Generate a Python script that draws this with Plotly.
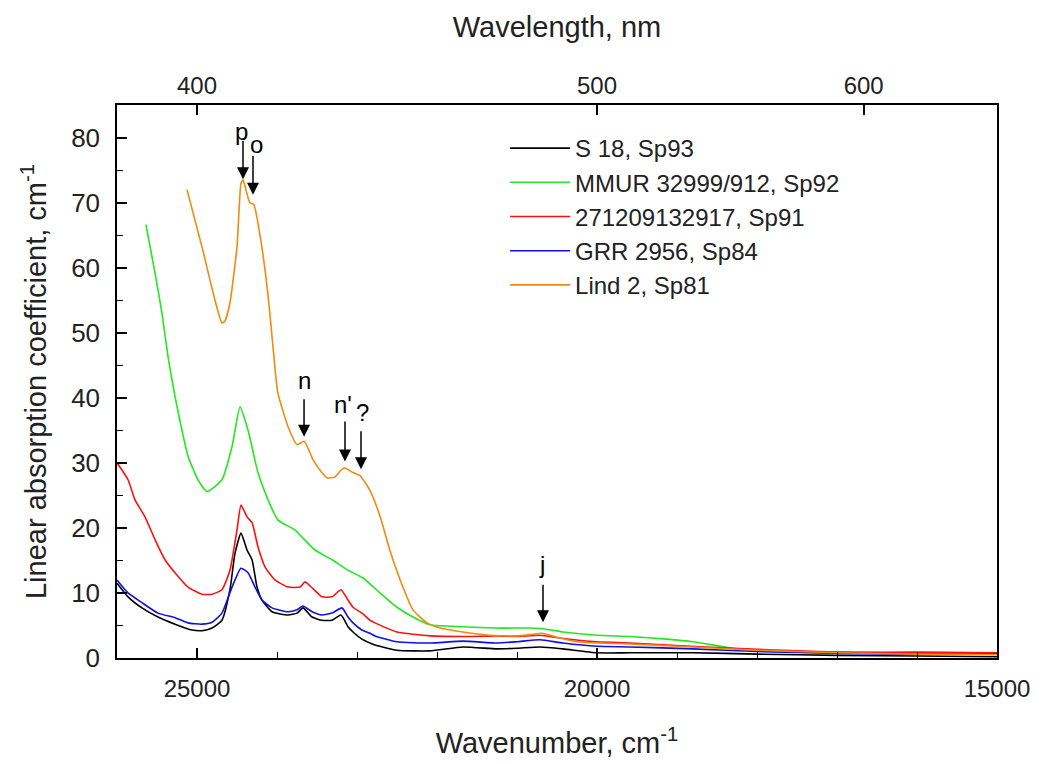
import plotly.graph_objects as go

# ---- data (wavenumber cm^-1, absorption coefficient cm^-1) ----
s18_wn = [26000, 25862, 25688, 25488, 25275, 25062, 24938, 24812, 24688, 24588, 24525, 24450,
          24375, 24312, 24250, 24188, 24062, 23862, 23750, 23675, 23562, 23438, 23312, 23200,
          23112, 23050, 22938, 22838, 22775, 22500, 22088, 21675, 21250, 21000, 20712, 20425,
          20000, 19588, 18800, 18000, 17000, 16000, 15000]
s18_val = [11.5, 9.4, 7.7, 6.3, 5.2, 4.3, 4.2, 4.6, 5.8, 10.5, 16.1, 19.2,
           16.6, 15.1, 10.9, 8.9, 7.1, 6.6, 6.9, 7.7, 6.3, 5.8, 5.8, 6.6,
           4.8, 4.0, 2.9, 2.3, 2.0, 1.2, 1.1, 1.7, 1.4, 1.5, 1.7, 1.4,
           0.8, 0.8, 0.8, 0.6, 0.4, 0.3, 0.2]

mmur_wn = [25638, 25525, 25438, 25362, 25275, 25188, 25112, 24988, 24875, 24688, 24562, 24462,
           24362, 24238, 24112, 23988, 23775, 23688, 23525, 23312, 23112, 22925, 22712, 22500,
           22300, 22088, 21675, 21250, 20838, 20675, 20425, 20000, 19588, 19125, 18800, 18300,
           17875, 17050, 16000, 15000]
mmur_val = [66.6, 59.2, 53.0, 46.3, 40.2, 35.0, 31.0, 27.4, 25.6, 27.4, 32.5, 38.6,
            35.0, 28.5, 24.3, 21.2, 19.7, 18.6, 16.6, 15.1, 13.5, 12.3, 10.0, 7.8,
            6.3, 5.1, 4.8, 4.6, 4.6, 4.5, 4.0, 3.5, 3.3, 2.9, 2.5, 1.5,
            1.1, 0.9, 0.8, 0.8]

r27_wn = [26000, 25862, 25775, 25650, 25525, 25400, 25275, 25112, 24938, 24812, 24688, 24588,
          24500, 24450, 24375, 24312, 24238, 24150, 24025, 23862, 23712, 23650, 23562, 23438,
          23312, 23200, 23112, 23050, 22938, 22838, 22775, 22500, 22088, 21675, 21250, 21000,
          20712, 20425, 20000, 19588, 19125, 18300, 17050, 16000, 15000]
r27_val = [30.0, 27.4, 24.3, 21.7, 18.2, 15.1, 13.1, 10.9, 9.8, 9.8, 10.5, 13.5,
           19.7, 23.5, 21.7, 20.8, 17.1, 14.0, 12.0, 10.9, 10.9, 11.7, 10.8, 9.4,
           9.4, 10.5, 8.9, 7.8, 6.9, 5.8, 5.4, 4.0, 3.4, 3.3, 3.4, 3.3,
           3.5, 3.0, 2.5, 2.3, 2.0, 1.5, 0.9, 0.9, 0.8]

grr_wn = [26000, 25862, 25688, 25488, 25275, 25112, 24938, 24812, 24688, 24562, 24450, 24362,
          24275, 24188, 24062, 23862, 23750, 23675, 23562, 23438, 23312, 23188, 23112, 23050,
          22938, 22838, 22775, 22500, 22088, 21675, 21250, 21000, 20712, 20425, 20000, 19588,
          18800, 18000, 17000, 16000, 15000]
grr_val = [12.0, 10.0, 8.5, 6.9, 6.2, 5.4, 5.2, 5.5, 6.9, 10.9, 13.8, 13.1,
           10.9, 8.9, 7.7, 7.1, 7.4, 8.0, 7.1, 6.6, 6.9, 7.7, 6.3, 5.4,
           4.3, 3.8, 3.4, 2.5, 2.3, 2.6, 2.3, 2.5, 2.8, 2.3, 1.8, 1.7,
           1.4, 1.0, 0.7, 0.6, 0.6]

lind_wn = [25125, 24938, 24775, 24688, 24650, 24588, 24500, 24450, 24425, 24400, 24340, 24290,
           24190, 24110, 24050, 23990, 23860, 23750, 23660, 23550, 23440, 23375, 23280, 23190,
           23150, 23050, 22960, 22840, 22710, 22590, 22460, 22300, 22125, 21960, 21675, 21340,
           21000, 20840, 20690, 20500, 20250, 20000, 19590, 19000, 18000, 17000, 16000, 15000]
lind_val = [72.0, 63.2, 55.0, 51.5, 51.8, 54.6, 63.2, 73.0, 73.5, 72.5, 70.0, 69.7,
            63.2, 55.5, 47.8, 40.8, 35.5, 32.8, 33.3, 30.5, 28.5, 27.7, 27.8, 29.0,
            29.2, 28.5, 28.0, 25.8, 21.7, 16.6, 12.0, 7.4, 5.4, 4.6, 4.0, 3.5,
            3.4, 3.6, 3.8, 3.2, 2.5, 2.3, 2.15, 1.8, 1.2, 0.8, 0.6, 0.5]

series_names = ["S 18, Sp93", "MMUR 32999/912, Sp92", "271209132917, Sp91",
                "GRR 2956, Sp84", "Lind 2, Sp81"]
series_colors = ["#000000", "#22e822", "#ff1010", "#1010e0", "#f08a10"]

wavelength_ticks_nm = [400, 500, 600]

# peak labels: (label, arrow x, arrow tip y, arrow tail y, label x, label y)
peak_labels = ["p", "o", "n", "n'", "?", "j"]
peak_x = [24425, 24300, 23662, 23150, 22950, 20675]
peak_tip = [73.6, 71.2, 34.0, 30.2, 29.0, 5.5]
peak_tail = [79.7, 77.4, 40.0, 36.6, 35.1, 11.5]
label_x = [24440, 24262, 23662, 23175, 22930, 20690]
label_y = [81.0, 79.0, 42.6, 38.9, 37.7, 14.3]

FONT = "Arial, Liberation Sans, sans-serif"

fig = go.Figure()
all_wn = [s18_wn, mmur_wn, r27_wn, grr_wn, lind_wn]
all_val = [s18_val, mmur_val, r27_val, grr_val, lind_val]
for name, col, wn, val in zip(series_names, series_colors, all_wn, all_val):
    fig.add_trace(go.Scatter(x=wn, y=val, mode="lines", name=name, legendgroup=name,
                             line=dict(color=col, width=1.6, shape="spline", smoothing=0.5)))

# invisible trace for the top wavelength axis
fig.add_trace(go.Scatter(x=[26000, 15000], y=[None, None], xaxis="x2", showlegend=False,
                         hoverinfo="skip", mode="lines"))

for lab, ax_, tip, tail, lx, ly in zip(peak_labels, peak_x, peak_tip, peak_tail, label_x, label_y):
    fig.add_annotation(x=ax_, y=tip, ax=ax_, ay=tail, xref="x", yref="y", axref="x", ayref="y",
                       text="", showarrow=True, arrowhead=2, arrowsize=1.6, arrowwidth=1.5,
                       arrowcolor="black")
    fig.add_annotation(x=lx, y=ly, xref="x", yref="y", text=lab, showarrow=False,
                       font=dict(family=FONT, size=24, color="black"))

fig.update_layout(
    width=1042, height=764,
    paper_bgcolor="white", plot_bgcolor="white",
    margin=dict(l=109, r=53, t=97, b=114),
    font=dict(family=FONT, size=24, color="#222"),
    showlegend=True,
    legend=dict(x=0.441, y=0.962, xanchor="left", yanchor="top", bgcolor="rgba(0,0,0,0)",
                font=dict(family=FONT, size=24, color="#222"), tracegroupgap=0,
                itemwidth=60),
    xaxis=dict(range=[26000, 15000], tickvals=[25000, 20000, 15000],
               ticktext=["25000", "20000", "15000"],
               ticks="inside", ticklen=10, tickwidth=1.5, tickcolor="black",
               minor=dict(dtick=1000, ticks="inside", ticklen=6, tickcolor="black", tickwidth=1.2),
               showline=True, linecolor="black", linewidth=1.5, showgrid=False, zeroline=False,
               tickfont=dict(size=24), ticklabelstandoff=8, automargin=False,
               title=dict(text="Wavenumber, cm<sup>-1</sup>", font=dict(size=29), standoff=32)),
    xaxis2=dict(range=[26000, 15000], overlaying="x", side="top", anchor="y",
                tickvals=[1e7 / w for w in wavelength_ticks_nm],
                ticktext=[str(w) for w in wavelength_ticks_nm],
                ticks="inside", ticklen=10, tickwidth=1.5, tickcolor="black",
                showline=True, linecolor="black", linewidth=1.5, showgrid=False, zeroline=False,
                tickfont=dict(size=24), automargin=False,
                title=dict(text="Wavelength, nm", font=dict(size=29), standoff=26)),
    yaxis=dict(range=[0, 85], tickvals=[0, 10, 20, 30, 40, 50, 60, 70, 80],
               ticks="inside", ticklen=10, tickwidth=1.5, tickcolor="black",
               minor=dict(dtick=5, ticks="inside", ticklen=6, tickcolor="black", tickwidth=1.2),
               showline=True, mirror=True, linecolor="black", linewidth=1.5,
               showgrid=False, zeroline=False, tickfont=dict(size=26), ticklabelstandoff=10,
               automargin=False,
               title=dict(text="Linear absorption coefficient, cm<sup>-1</sup>",
                          font=dict(size=29), standoff=16)),
)

fig.write_html("out.html")
